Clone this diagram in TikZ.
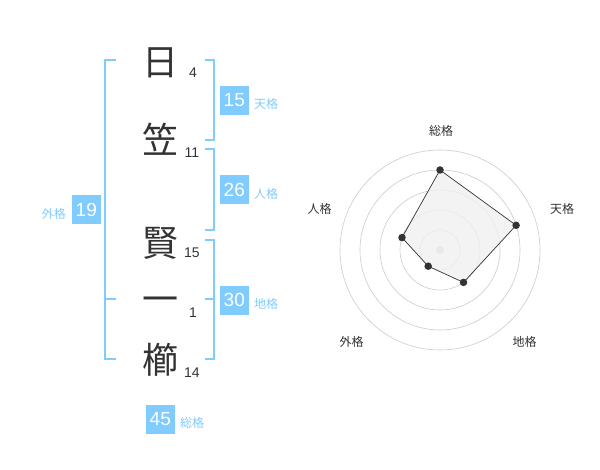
\documentclass[tikz,border=0pt]{standalone}
\usepackage{fontspec}
\setmainfont{Liberation Sans}
\newfontfamily\cjk{Noto Sans CJK JP}
\definecolor{kblue}{RGB}{128,204,255}
\definecolor{kdark}{RGB}{51,51,51}
\definecolor{kgrid}{RGB}{204,204,204}
\definecolor{kfill}{RGB}{240,240,240}
\tikzset{
  kanji/.style={font=\cjk\fontsize{36}{36}\selectfont, text=kdark, inner sep=0pt, anchor=base},
  strokes/.style={font=\fontsize{14}{14}\selectfont, text=kdark, inner sep=0pt},
  numbox/.style={fill=kblue, text=white, minimum width=29pt, minimum height=29pt, inner sep=0pt, font=\fontsize{19}{19}\selectfont},
  kaku/.style={font=\cjk\fontsize{12}{12}\selectfont, text=kblue, inner sep=0pt},
  bracket/.style={draw=kblue, line width=2pt},
  ring/.style={draw=kgrid, line width=0.6pt},
  axislabel/.style={font=\cjk\fontsize{12}{12}\selectfont, text=kdark, inner sep=0pt},
  vdot/.style={circle, fill=kdark, minimum size=7.5pt, inner sep=0pt},
}
\begin{document}
\begin{tikzpicture}[x=1pt,y=-1pt]
\useasboundingbox[fill=white] (0,0) rectangle (600,470);
% characters
\node[kanji] (c1) at (160,75.5) {日};
\node[kanji] (c2) at (160,153.5) {笠};
\node[kanji] (c3) at (160,256.5) {賢};
\node[kanji] (c4) at (160,312.5) {一};
\node[kanji] (c5) at (160,373.5) {櫛};
\node[strokes] (s1) at (193,73) {4};
\node[strokes] (s2) at (192,153) {11};
\node[strokes] (s3) at (192,253) {15};
\node[strokes] (s4) at (193,313) {1};
\node[strokes] (s5) at (192,373) {14};
% brackets
\draw[bracket] (205,60) -- (214.3,60) -- (214.3,140) -- (205,140);
\draw[bracket] (205,149.5) -- (214.3,149.5) -- (214.3,229.7) -- (205,229.7);
\draw[bracket] (205,240) -- (214.3,240) -- (214.3,359.5) -- (205,359.5);
\draw[bracket] (205,299.5) -- (214.3,299.5);
\draw[bracket] (116,60) -- (105,60) -- (105,359.5) -- (116,359.5);
\draw[bracket] (105,299.5) -- (116,299.5);
% boxes
\node[numbox] (b1) at (234.3,100.3) {15};
\node[kaku, anchor=west] (l1) at (254,104) {天格};
\node[numbox] (b2) at (234.3,190) {26};
\node[kaku, anchor=west] (l2) at (254,194) {人格};
\node[numbox] (b3) at (234.3,300.3) {30};
\node[kaku, anchor=west] (l3) at (254,304) {地格};
\node[numbox] (b4) at (86.3,210) {19};
\node[kaku, anchor=east] (l4) at (66,213.5) {外格};
\node[numbox] (b5) at (160.3,419.2) {45};
\node[kaku, anchor=west] (l5) at (180,422.5) {総格};
% radar
\coordinate (rc) at (440,250);
\foreach \r in {20,40,60,80,100} \draw[ring] (rc) circle[radius=\r];
\fill[kgrid] (rc) circle[radius=4];
\coordinate (p1) at (440,170);
\coordinate (p2) at (516.1,225.3);
\coordinate (p3) at (463.5,282.4);
\coordinate (p4) at (428.2,266.2);
\coordinate (p5) at (402.0,237.6);
\filldraw[fill=kfill, fill opacity=0.8, draw=kdark, line width=0.7pt] (p1) -- (p2) -- (p3) -- (p4) -- (p5) -- cycle;
\foreach \p in {p1,p2,p3,p4,p5} \node[vdot] at (\p) {};
\node[axislabel] (a1) at (441,130.5) {総格};
\node[axislabel] (a2) at (562,209) {天格};
\node[axislabel] (a3) at (524.5,342) {地格};
\node[axislabel] (a4) at (351.5,342) {外格};
\node[axislabel] (a5) at (319.5,209) {人格};
\end{tikzpicture}
\end{document}
